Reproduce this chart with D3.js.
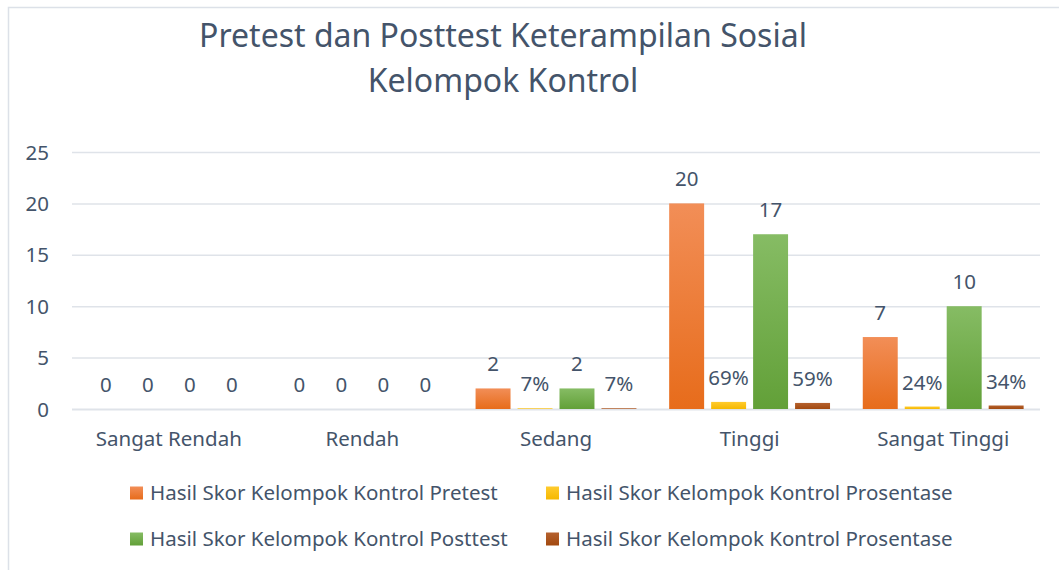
<!DOCTYPE html>
<html>
<head>
<meta charset="utf-8">
<script src="https://cdn.jsdelivr.net/npm/d3@7"></script>
<style>
  body { margin: 0; background: #fff; }
  svg text { font-family: "Noto Sans", "Open Sans", sans-serif; fill: #44546A; }
</style>
</head>
<body>
<div id="chart"></div>
<script>
// chart data
var categories = ['Sangat Rendah', 'Rendah', 'Sedang', 'Tinggi', 'Sangat Tinggi']
var seriesNames = [
  'Hasil Skor Kelompok Kontrol Pretest',
  'Hasil Skor Kelompok Kontrol Prosentase',
  'Hasil Skor Kelompok Kontrol Posttest',
  'Hasil Skor Kelompok Kontrol Prosentase'
]
var pretest = [0, 0, 2, 20, 7]
var pretestPct = [0, 0, 0.07, 0.69, 0.24]
var posttest = [0, 0, 2, 17, 10]
var posttestPct = [0, 0, 0.07, 0.59, 0.34]
var isPercent = [false, true, false, true]
var yTicks = [0, 5, 10, 15, 20, 25]
var colors = [
  ['#F28E57', '#E76C1B'],
  ['#FFCB2E', '#F5B800'],
  ['#86BC64', '#62A038'],
  ['#B5612E', '#A2490F']
]

var allSeries = [pretest, pretestPct, posttest, posttestPct]

var svgWidth = 1059
var svgHeight = 570
var margin = { top: 152, bottom: 161, left: 72, right: 19 }
var labelSize = '20.5px'

var svg = d3.select('#chart')
  .append('svg')
  .attr('width', svgWidth)
  .attr('height', svgHeight)

// chart border
svg.append('rect')
  .attr('x', 8.5).attr('y', 7.5)
  .attr('width', 1100).attr('height', 600)
  .attr('fill', 'none')
  .attr('stroke', '#DCE1E8')
  .attr('stroke-width', 1.5)

// gradients for the bars
var defs = svg.append('defs')
colors.forEach(function(c, i) {
  var g = defs.append('linearGradient')
    .attr('id', 'grad' + i)
    .attr('x1', 0).attr('y1', 0).attr('x2', 0).attr('y2', 1)
  g.append('stop').attr('offset', '0%').attr('stop-color', c[0])
  g.append('stop').attr('offset', '100%').attr('stop-color', c[1])
})

// title
svg.append('text')
  .attr('x', 503).attr('y', 47)
  .attr('text-anchor', 'middle')
  .style('font-size', '32px')
  .text('Pretest dan Posttest Keterampilan Sosial')
svg.append('text')
  .attr('x', 503).attr('y', 92)
  .attr('text-anchor', 'middle')
  .style('font-size', '32px')
  .text('Kelompok Kontrol')

var xScale = d3.scaleBand()
  .domain(categories)
  .range([margin.left, svgWidth - margin.right])

var x1 = d3.scaleBand()
  .domain(d3.range(allSeries.length))
  .range([0, xScale.bandwidth()])
  .paddingInner(0.167)
  .paddingOuter(0.39)

var yScale = d3.scaleLinear()
  .domain([0, 25])
  .range([svgHeight - margin.bottom, margin.top])

// gridlines
svg.append('g')
  .selectAll('line')
  .data(yTicks)
  .enter()
  .append('line')
  .attr('x1', margin.left)
  .attr('x2', svgWidth - margin.right)
  .attr('y1', d => yScale(d) + 0.5)
  .attr('y2', d => yScale(d) + 0.5)
  .attr('stroke', '#DFE3E9')
  .attr('stroke-width', d => d === 0 ? 2 : 1.5)

// y axis
var yAxis = d3.axisLeft(yScale).tickValues(yTicks).tickSize(0).tickPadding(0)
var yAxisG = svg.append('g')
  .attr('transform', 'translate(49, 0)')
  .call(yAxis)
yAxisG.select('.domain').remove()
yAxisG.selectAll('text')
  .style('font-size', labelSize)
  .attr('dy', '0.35em')

// x axis labels
var xAxis = d3.axisBottom(xScale).tickSize(0).tickPadding(0)
var xAxisG = svg.append('g')
  .attr('transform', 'translate(0, 431)')
  .call(xAxis)
xAxisG.select('.domain').remove()
xAxisG.selectAll('text').style('font-size', labelSize)

// bars
var groups = svg.append('g')
  .selectAll('g')
  .data(categories)
  .enter()
  .append('g')
  .attr('transform', d => `translate(${xScale(d)}, 0)`)

groups.selectAll('rect')
  .data((d, ci) => allSeries.map((s, si) => ({ si: si, v: s[ci] })))
  .enter()
  .append('rect')
  .attr('x', d => x1(d.si))
  .attr('width', x1.bandwidth())
  .attr('y', d => yScale(d.v))
  .attr('height', d => yScale(0) - yScale(d.v))
  .attr('fill', d => `url(#grad${d.si})`)

// value labels
groups.selectAll('.valueLabel')
  .data((d, ci) => allSeries.map((s, si) => ({ si: si, v: s[ci] })))
  .enter()
  .append('text')
  .attr('class', 'valueLabel')
  .attr('x', d => x1(d.si) + x1.bandwidth() / 2)
  .attr('y', d => yScale(d.v) - 17)
  .attr('text-anchor', 'middle')
  .style('font-size', labelSize)
  .text(d => (isPercent[d.si] && d.v !== 0) ? Math.round(d.v * 100) + '%' : d.v)

// legend
var legendPos = [[130, 493], [546, 493], [130, 539], [546, 539]]
var legend = svg.append('g')
  .selectAll('g')
  .data(seriesNames)
  .enter()
  .append('g')
  .attr('transform', (d, i) => `translate(${legendPos[i][0]}, ${legendPos[i][1]})`)

legend.append('rect')
  .attr('x', 0).attr('y', -6.5)
  .attr('width', 13).attr('height', 13)
  .attr('fill', (d, i) => `url(#grad${i})`)

legend.append('text')
  .attr('x', 20)
  .attr('dy', '0.35em')
  .style('font-size', labelSize)
  .text(d => d)
</script>
</body>
</html>
